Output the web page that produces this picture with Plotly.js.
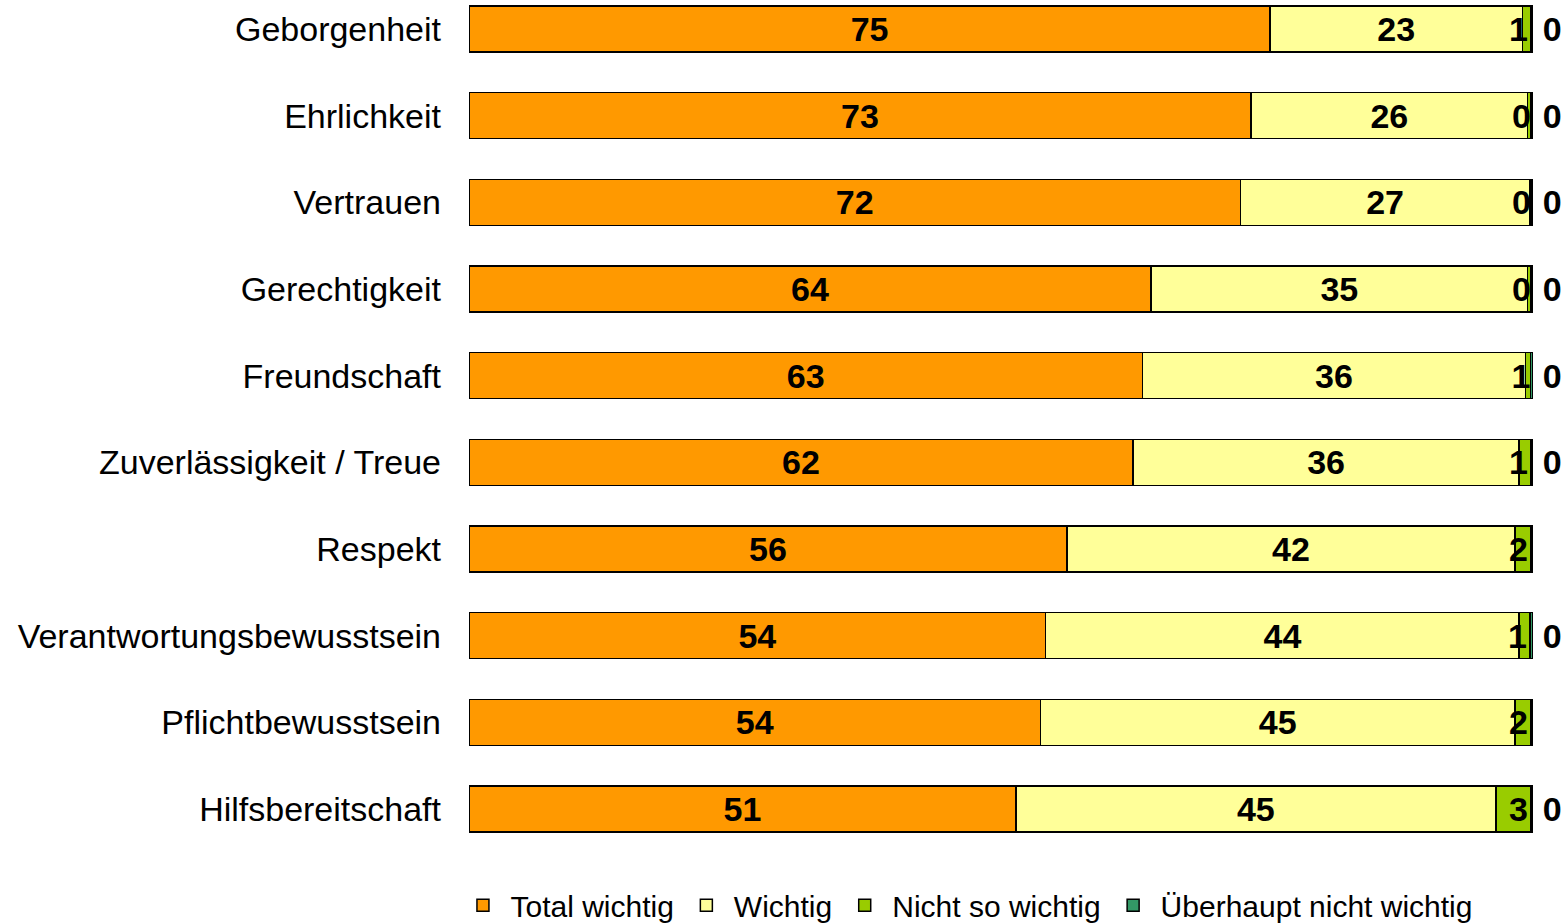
<!DOCTYPE html>
<html>
<head>
<meta charset="utf-8">
<script src="https://cdn.plot.ly/plotly-3.0.1.min.js"></script>
<style>html,body{margin:0;padding:0;background:#fff;}#chart{width:1566px;height:923px;}</style>
</head>
<body>
<div id="chart"></div>
<script>
const categories = ["Geborgenheit","Ehrlichkeit","Vertrauen","Gerechtigkeit","Freundschaft","Zuverlässigkeit / Treue","Respekt","Verantwortungsbewusstsein","Pflichtbewusstsein","Hilfsbereitschaft"];
const seriesNames = ["Total wichtig","Wichtig","Nicht so wichtig","Überhaupt nicht wichtig"];
const totalWichtig   = [75.3, 73.5, 72.5, 64.1, 63.3, 62.4, 56.2, 54.2, 53.7, 51.4];
const wichtig        = [23.7, 26.0, 27.2, 35.4, 36.0, 36.3, 42.1, 44.5, 44.6, 45.1];
const nichtSoWichtig = [0.8, 0.3, 0.1, 0.3, 0.45, 1.1, 1.5, 1.0, 1.5, 3.3];
const ueberhauptNicht= [0.2, 0.2, 0.2, 0.2, 0.25, 0.2, 0.2, 0.3, 0.2, 0.2];
const lblTotal   = [75, 73, 72, 64, 63, 62, 56, 54, 54, 51];
const lblWichtig = [23, 26, 27, 35, 36, 36, 42, 44, 45, 45];
const lblNicht   = [1, 0, 0, 0, 1, 1, 2, 1, 2, 3];
const lblUeber   = [0, 0, 0, 0, 0, 0, 0, 0, 0, 0];
const colors = ["#FF9900", "#FFFF99", "#99CC00", "#339966"];

const valueSets = [totalWichtig, wichtig, nichtSoWichtig, ueberhauptNicht];
const labelSets = [lblTotal, lblWichtig, lblNicht, lblUeber];
const FONT = "Liberation Sans, Arial, sans-serif";
const tf = {family: FONT, size: 34, color: "#000", weight: "bold"};

const traces = valueSets.map((vals, i) => ({
  type: "bar",
  orientation: "h",
  name: seriesNames[i],
  y: categories,
  x: vals,
  text: labelSets[i].map(v => (i === 3 ? "\u2009" : "") + String(v)),
  textposition: i === 3 ? "outside" : "inside",
  insidetextanchor: i === 2 ? "end" : "middle",
  textangle: 0,
  cliponaxis: false,
  constraintext: "none",
  textfont: tf,
  insidetextfont: tf,
  outsidetextfont: tf,
  marker: {color: colors[i], line: {color: "#000", width: 1.5}},
  hoverinfo: "none"
}));

const layout = {
  width: 1566, height: 923,
  barmode: "stack",
  bargap: 0.47,
  showlegend: true,
  paper_bgcolor: "#fff", plot_bgcolor: "#fff",
  margin: {l: 469, r: 32.5, t: 0, b: 73, pad: 0, autoexpand: false},
  uniformtext: {mode: "show", minsize: 34},
  xaxis: {range: [0, 100], showgrid: false, zeroline: false, showticklabels: false, ticks: "", showline: false, fixedrange: true},
  yaxis: {
    type: "category",
    range: [9.473, -0.335],
    showgrid: false, zeroline: false, ticks: "", showline: false,
    ticklabelstandoff: 27,
    tickfont: {family: FONT, size: 34, color: "#000"}
  },
  legend: {
    orientation: "h",
    x: 0.468, xanchor: "center",
    y: -0.065, yanchor: "middle",
    font: {family: FONT, size: 30, color: "#000"},
    traceorder: "normal",
    itemwidth: 45,
    tracegroupgap: 0
  },
  font: {family: FONT, color: "#000"}
};

Plotly.newPlot("chart", traces, layout, {displayModeBar: false, staticPlot: true});
</script>
</body>
</html>
